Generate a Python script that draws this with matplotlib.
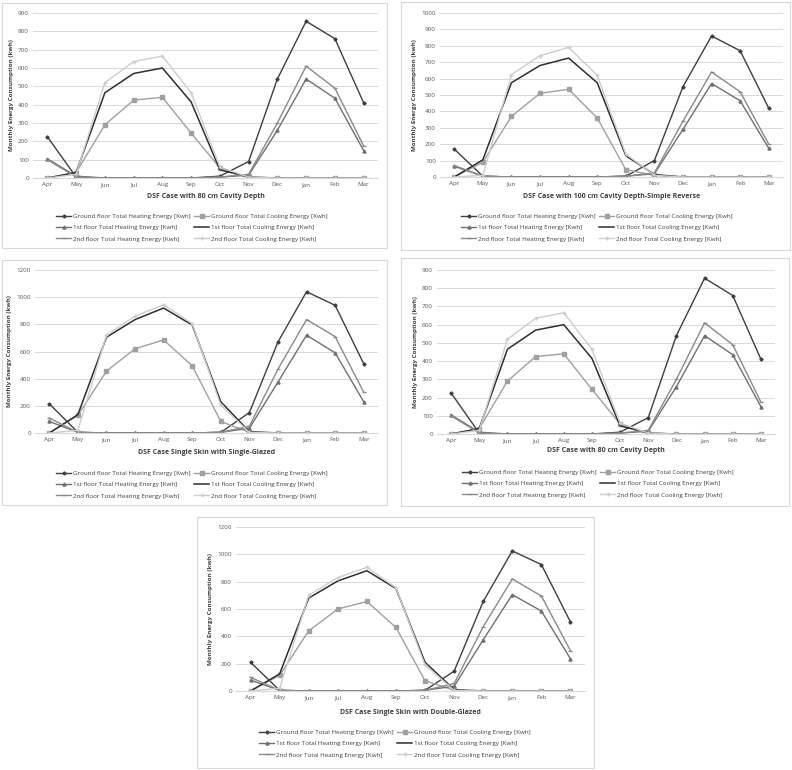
import matplotlib
matplotlib.use("Agg")
import matplotlib.pyplot as plt
from matplotlib.patches import Rectangle

# < data >-------------------------------------------------------------------------------------

MONTHS = ["Apr", "May", "Jun", "Jul", "Aug", "Sep", "Oct", "Nov", "Dec", "Jan", "Feb", "Mar"]

LABELS = ["Ground floor Total Heating Energy [Kwh]",
          "Ground floor Total Cooling Energy [Kwh]",
          "1st floor Total Heating Energy [Kwh]",
          "1st floor Total Cooling Energy [Kwh]",
          "2nd floor Total Heating Energy [Kwh]",
          "2nd floor Total Cooling Energy [Kwh]"]

# DSF Case with 80 cm Cavity Depth
cav80_gf_heat = [225, 5, 0, 0, 0, 0, 10, 90, 540, 855, 760, 410]
cav80_gf_cool = [0, 30, 290, 425, 440, 245, 55, 5, 0, 0, 0, 0]
cav80_f1_heat = [105, 10, 0, 0, 0, 0, 5, 15, 260, 540, 435, 150]
cav80_f1_cool = [0, 30, 465, 570, 600, 415, 45, 5, 0, 0, 0, 0]
cav80_f2_heat = [100, 5, 0, 0, 0, 0, 5, 20, 300, 610, 490, 175]
cav80_f2_cool = [0, 20, 520, 635, 665, 465, 60, 5, 0, 0, 0, 0]

# DSF Case with 100 cm Cavity Depth-Simple Reverse
cav100_gf_heat = [170, 5, 0, 0, 0, 0, 5, 100, 550, 860, 770, 420]
cav100_gf_cool = [0, 90, 370, 510, 535, 360, 45, 10, 0, 0, 0, 0]
cav100_f1_heat = [65, 5, 0, 0, 0, 0, 5, 20, 290, 570, 465, 175]
cav100_f1_cool = [0, 105, 575, 680, 725, 575, 130, 15, 0, 0, 0, 0]
cav100_f2_heat = [70, 5, 0, 0, 0, 0, 5, 25, 340, 640, 520, 200]
cav100_f2_cool = [0, 10, 625, 740, 790, 620, 140, 10, 0, 0, 0, 0]

# DSF Case Single Skin with Single-Glazed
sg_gf_heat = [215, 5, 0, 0, 0, 0, 5, 150, 670, 1040, 940, 510]
sg_gf_cool = [0, 130, 455, 620, 685, 495, 85, 5, 0, 0, 0, 0]
sg_f1_heat = [85, 5, 0, 0, 0, 0, 5, 35, 375, 720, 590, 230]
sg_f1_cool = [0, 135, 705, 835, 920, 795, 230, 10, 0, 0, 0, 0]
sg_f2_heat = [110, 5, 0, 0, 0, 0, 5, 50, 470, 835, 710, 300]
sg_f2_cool = [0, 20, 720, 860, 945, 805, 205, 5, 0, 0, 0, 0]

# DSF Case Single Skin with Double-Glazed
dg_gf_heat = [210, 5, 0, 0, 0, 0, 5, 145, 655, 1025, 925, 505]
dg_gf_cool = [0, 115, 440, 600, 655, 465, 75, 5, 0, 0, 0, 0]
dg_f1_heat = [80, 5, 0, 0, 0, 0, 5, 35, 375, 705, 585, 235]
dg_f1_cool = [0, 125, 680, 805, 880, 750, 210, 10, 0, 0, 0, 0]
dg_f2_heat = [100, 5, 0, 0, 0, 0, 5, 55, 470, 820, 695, 295]
dg_f2_cool = [0, 20, 700, 830, 905, 755, 190, 5, 0, 0, 0, 0]

# < styles >-----------------------------------------------------------------------------------

STYLES = [dict(color="#3f3f3f", marker="D", ms=1.6, lw=1.0),
          dict(color="#a0a0a0", marker="s", ms=2.2, lw=1.0),
          dict(color="#707070", marker="^", ms=2.2, lw=1.0),
          dict(color="#2e2e2e", marker="", lw=1.1),
          dict(color="#8a8a8a", marker="_", ms=2.5, lw=1.0),
          dict(color="#cdcdcd", marker="+", ms=2.5, lw=1.0)]

W, H = 792, 770
plt.rcParams["font.family"] = ["Open Sans", "DejaVu Sans"]


def fx(px):
    return px / W


def fy(py):
    return 1 - py / H


def draw_panel(fig, box, frame, ymax, ystep, series, title, title_y, leg_x, leg_y):
    """draws one framed line chart panel; box/frame in pixel coords"""
    left, right, top, bottom = box
    fig.add_artist(Rectangle((fx(frame[0]), fy(frame[3])), fx(frame[2] - frame[0]),
                             (frame[3] - frame[1]) / H, transform=fig.transFigure,
                             fill=False, ec="#d9d9d9", lw=0.8))
    ax = fig.add_axes([fx(left), fy(bottom), fx(right - left), (bottom - top) / H])
    x = range(len(MONTHS))
    handles = []
    for vals, st in zip(series, STYLES):
        h, = ax.plot(x, vals, **st)
        handles.append(h)
    ax.set_xlim(-0.5, len(MONTHS) - 0.5)
    ax.set_ylim(0, ymax)
    ax.set_yticks(range(0, ymax + 1, ystep))
    ax.set_xticks(list(x))
    ax.set_xticklabels(MONTHS)
    ax.tick_params(labelsize=4.5, length=0, colors="#595959", pad=3)
    ax.grid(axis="y", color="#d9d9d9", lw=0.7)
    ax.set_axisbelow(True)
    for s in ["top", "right", "left"]:
        ax.spines[s].set_visible(False)
    ax.spines["bottom"].set_color("#d9d9d9")
    ax.set_ylabel("Monthly Energy Consumption (kwh)", fontsize=4.5, fontweight="bold",
                  color="#404040", labelpad=3)
    fig.text(fx((left + right) / 2), fy(title_y), title, fontsize=5, fontweight="bold",
             color="#404040", ha="center", va="center")
    order = [0, 2, 4, 1, 3, 5]
    fig.legend([handles[i] for i in order], [LABELS[i] for i in order], ncol=2,
               loc="upper center", bbox_to_anchor=(fx(leg_x), fy(leg_y)),
               frameon=False, fontsize=4.5, labelspacing=0.95, columnspacing=0.6,
               handlelength=2.4, handletextpad=0.3, labelcolor="#404040")
    return ax


fig = plt.figure(figsize=(W / 100, H / 100), dpi=100)

draw_panel(fig, (33, 378, 13, 178), (2, 3, 387, 248), 900, 100,
           [cav80_gf_heat, cav80_gf_cool, cav80_f1_heat, cav80_f1_cool, cav80_f2_heat, cav80_f2_cool],
           "DSF Case with 80 cm Cavity Depth", 197, 192, 208)
draw_panel(fig, (440, 783, 13, 177), (401, 2, 790, 250), 1000, 100,
           [cav100_gf_heat, cav100_gf_cool, cav100_f1_heat, cav100_f1_cool, cav100_f2_heat, cav100_f2_cool],
           "DSF Case with 100 cm Cavity Depth-Simple Reverse", 197, 597, 208)
draw_panel(fig, (35, 378, 270, 433), (2, 260, 387, 505), 1200, 200,
           [sg_gf_heat, sg_gf_cool, sg_f1_heat, sg_f1_cool, sg_f2_heat, sg_f2_cool],
           "DSF Case Single Skin with Single-Glazed", 453, 192, 465)
draw_panel(fig, (437, 775, 270, 434), (401, 258, 789, 506), 900, 100,
           [cav80_gf_heat, cav80_gf_cool, cav80_f1_heat, cav80_f1_cool, cav80_f2_heat, cav80_f2_cool],
           "DSF Case with 80 cm Cavity Depth", 451, 598, 464)
draw_panel(fig, (236, 585, 527, 691), (197, 517, 594, 768), 1200, 200,
           [dg_gf_heat, dg_gf_cool, dg_f1_heat, dg_f1_cool, dg_f2_heat, dg_f2_cool],
           "DSF Case Single Skin with Double-Glazed", 712, 395, 724)

fig.savefig("out.png", dpi=100)
